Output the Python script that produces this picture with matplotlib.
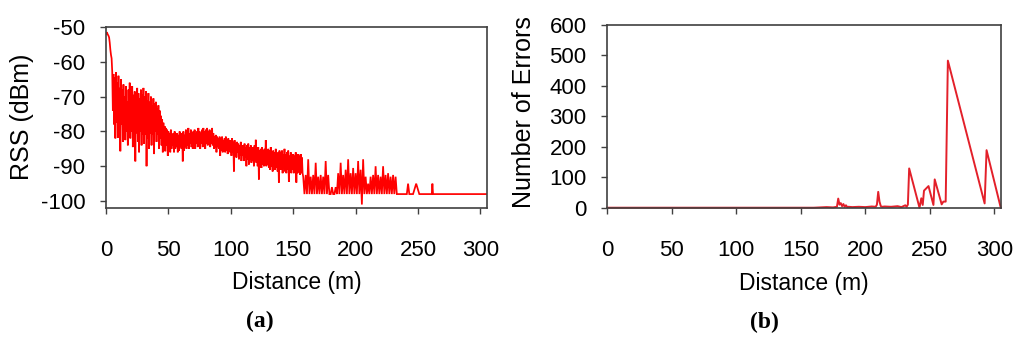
import numpy as np
import matplotlib
matplotlib.use("Agg")
import matplotlib.pyplot as plt

plt.rcParams['font.family'] = ['Liberation Sans', 'DejaVu Sans']
plt.rcParams['axes.unicode_minus'] = False

# ---------------- data (a): RSS vs distance ----------------
# part 1: 0 - 157.5 m, one reading every 0.5 m
rss_part1 = [
    -52.0, -51.5, -51.8, -52.2, -52.5, -53.0, -54.5, -56.5, -58.0, -59.0,
    -62.8, -74.0, -63.5, -78.0, -64.5, -82.0, -63.0, -77.5, -66.0, -81.8,
    -64.0, -79.0, -67.5, -85.7, -65.0, -78.0, -68.0, -83.0, -66.5, -79.0,
    -70.0, -82.5, -67.0, -80.0, -71.5, -84.0, -68.0, -79.5, -66.0, -82.0,
    -70.0, -80.0, -67.0, -84.5, -69.5, -81.0, -68.5, -88.6, -70.5, -80.5,
    -67.5, -83.0, -69.0, -86.0, -70.5, -80.0, -68.0, -84.0, -69.5, -81.0,
    -67.5, -83.5, -70.0, -81.0, -68.5, -90.0, -71.0, -82.0, -69.0, -85.0,
    -71.5, -80.5, -70.0, -84.0, -72.5, -81.0, -70.5, -86.5, -72.0, -80.0,
    -71.5, -83.0, -73.5, -81.0, -72.5, -85.0, -74.0, -82.0, -75.5, -84.0,
    -76.5, -86.0, -77.5, -83.0, -78.5, -85.7, -79.0, -84.0, -79.5, -87.0,
    -80.0, -84.5, -80.5, -86.0, -79.5, -85.0, -81.0, -84.0, -80.5, -86.0,
    -80.0, -85.0, -81.5, -84.5, -80.5, -86.0, -81.0, -85.5, -80.0, -84.5,
    -81.5, -85.0, -80.5, -88.6, -80.0, -85.5, -81.0, -84.5, -79.5, -85.0,
    -80.0, -84.0, -79.0, -85.0, -80.5, -83.5, -79.5, -84.5, -80.5, -85.0,
    -80.0, -84.0, -79.5, -85.0, -80.5, -83.5, -80.0, -84.5, -79.0, -84.0,
    -80.0, -85.0, -80.5, -83.5, -79.5, -84.5, -79.0, -83.5, -80.0, -85.0,
    -79.5, -83.5, -79.0, -84.0, -80.0, -83.0, -79.5, -84.5, -80.0, -83.5,
    -79.0, -84.0, -80.5, -85.0, -81.3, -84.5, -81.0, -86.0, -81.5, -84.5,
    -82.0, -85.0, -81.5, -87.0, -82.0, -85.5, -81.5, -86.0, -82.5, -85.0,
    -82.0, -86.0, -81.5, -85.5, -82.5, -86.5, -82.0, -85.5, -82.5, -86.0,
    -82.5, -87.0, -82.0, -86.0, -83.0, -91.5, -82.5, -86.5, -83.5, -87.5,
    -83.0, -86.0, -83.5, -88.0, -84.0, -87.0, -83.0, -88.5, -84.0, -87.0,
    -84.0, -88.5, -83.5, -87.5, -84.5, -90.0, -84.0, -88.0, -83.5, -89.5,
    -84.5, -88.0, -84.0, -89.0, -85.0, -88.5, -84.5, -90.0, -84.0, -88.5,
    -82.4, -89.0, -85.0, -90.0, -84.5, -93.8, -85.5, -89.0, -85.0, -90.5,
    -84.5, -89.5, -85.5, -90.0, -85.0, -89.5, -82.5, -90.0, -85.5, -89.5,
    -85.0, -90.5, -85.5, -91.0, -84.5, -90.0, -86.0, -91.5, -85.5, -90.0,
    -86.0, -91.0, -85.0, -90.5, -86.5, -91.5, -86.0, -94.7, -85.5, -91.0,
    -86.0, -91.0, -85.5, -92.0, -86.5, -90.5, -85.0, -91.5, -86.5, -92.0,
    -86.0, -91.0, -85.5, -94.5, -87.0, -91.5, -86.0, -92.0, -86.5, -91.0,
    -86.5, -92.0, -87.0, -91.5, -86.0, -94.7, -87.5, -92.0, -86.5, -91.5,
    -87.0, -92.5, -86.5, -92.0, -87.5, -92.0,
]
# part 2: 158 - 234 m, one reading every 1 m
rss_part2 = [
    -93.0, -98.0,
    -92.5, -98.0, -88.0, -98.0, -93.0, -98.0, -92.5, -98.0, -89.0, -98.0,
    -93.0, -98.0, -92.5, -98.0, -93.0, -98.0, -88.5, -98.0, -92.5, -98.0,
    -98.0, -96.0, -98.0, -98.0, -96.0, -98.0, -92.0, -98.0, -89.0, -98.0,
    -92.5, -98.0, -91.0, -98.0, -88.0, -98.0, -92.0, -98.0, -90.5, -98.0,
    -92.0, -98.0, -88.5, -98.0, -91.0, -101.0, -88.0, -98.0, -93.0, -98.0,
    -95.0, -98.0, -93.0, -98.0, -92.5, -98.0, -90.0, -98.0, -92.5, -98.0,
    -93.0, -98.0, -90.0, -98.0, -92.5, -98.0, -92.0, -98.0, -93.0, -98.0,
    -92.5, -98.0, -93.0, -98.0, -98.0,
]
# part 3: sparse tail
rss_tail_dist = [235, 241, 242, 243, 246, 248.5, 251, 261, 261.5, 262, 305]
rss_tail_vals = [-98, -98, -95, -98, -98, -95, -98, -98, -95, -98, -98]

# ---------------- data (b): number of errors vs distance ----------------
err_dist = [0, 160, 165, 170, 175, 178, 179, 180, 181, 182, 183, 184, 185, 186,
            187, 190, 195, 200, 205, 208, 209, 210, 211, 212, 213, 215, 220,
            225, 228, 231, 232, 233, 234, 242, 243.4, 244.5, 245.5, 249,
            252.8, 253.8, 259.2, 260.5, 262.3, 264, 292.5, 294, 305]
err_vals = [0, 0, 1, 2, 1, 3, 30, 10, 15, 5, 12, 3, 8, 2,
            3, 2, 3, 2, 4, 3, 10, 52, 20, 5, 3, 4, 3,
            5, 2, 8, 3, 10, 129, 0, 31, 9, 56, 71,
            9, 93, 11, 20, 20, 483, 14, 189, 0]

x_ticks = [0, 50, 100, 150, 200, 250, 300]
rss_ticks = [-100, -90, -80, -70, -60, -50]
err_ticks = [0, 100, 200, 300, 400, 500, 600]

rss_dist = (list(np.arange(len(rss_part1)) * 0.5)
            + list(158 + np.arange(len(rss_part2)))
            + rss_tail_dist)
rss_vals = rss_part1 + rss_part2 + rss_tail_vals

fig = plt.figure(figsize=(10.24, 3.39), dpi=100)
axA = fig.add_axes([0.1035, 0.3864, 0.3718, 0.534])
axB = fig.add_axes([0.5931, 0.3873, 0.3842, 0.539])

spine_col = '#404040'
for ax in (axA, axB):
    for s in ax.spines.values():
        s.set_color(spine_col)
        s.set_linewidth(1.2)
    ax.tick_params(axis='both', direction='out', length=4, width=1.0,
                   color=spine_col, labelsize=16, labelcolor='black')
    ax.tick_params(axis='y', pad=11)
    ax.tick_params(axis='x', pad=19)
    ax.set_xlim(0, 305)
    ax.set_xticks(x_ticks)

axA.plot(rss_dist, rss_vals, color='#ff0000', lw=1.25, solid_joinstyle='miter')
axA.set_ylim(-102, -50)
axA.set_yticks(rss_ticks)
axA.set_xlabel('Distance (m)', fontsize=16.5, va='center')
axA.xaxis.set_label_coords(0.5, -0.414)
axA.set_ylabel('RSS (dBm)', fontsize=18, va='center')
axA.yaxis.set_label_coords(-0.2206, 0.504)

axB.plot(err_dist, err_vals, color='#e3202a', lw=1.4, clip_on=False, zorder=1)
axB.set_ylim(0, 600)
axB.set_yticks(err_ticks)
axB.set_xlabel('Distance (m)', fontsize=16.5, va='center')
axB.xaxis.set_label_coords(0.5, -0.414)
axB.set_ylabel('Number of Errors', fontsize=18, va='center')
axB.yaxis.set_label_coords(-0.211, 0.521)

fig.text(260 / 1024, 1 - 321 / 339, '(a)', family=['Liberation Serif', 'DejaVu Serif'],
         fontweight='bold', fontsize=17, ha='center', va='center')
fig.text(764.5 / 1024, 1 - 322 / 339, '(b)', family=['Liberation Serif', 'DejaVu Serif'],
         fontweight='bold', fontsize=17, ha='center', va='center')

fig.savefig('out.png', dpi=100)
